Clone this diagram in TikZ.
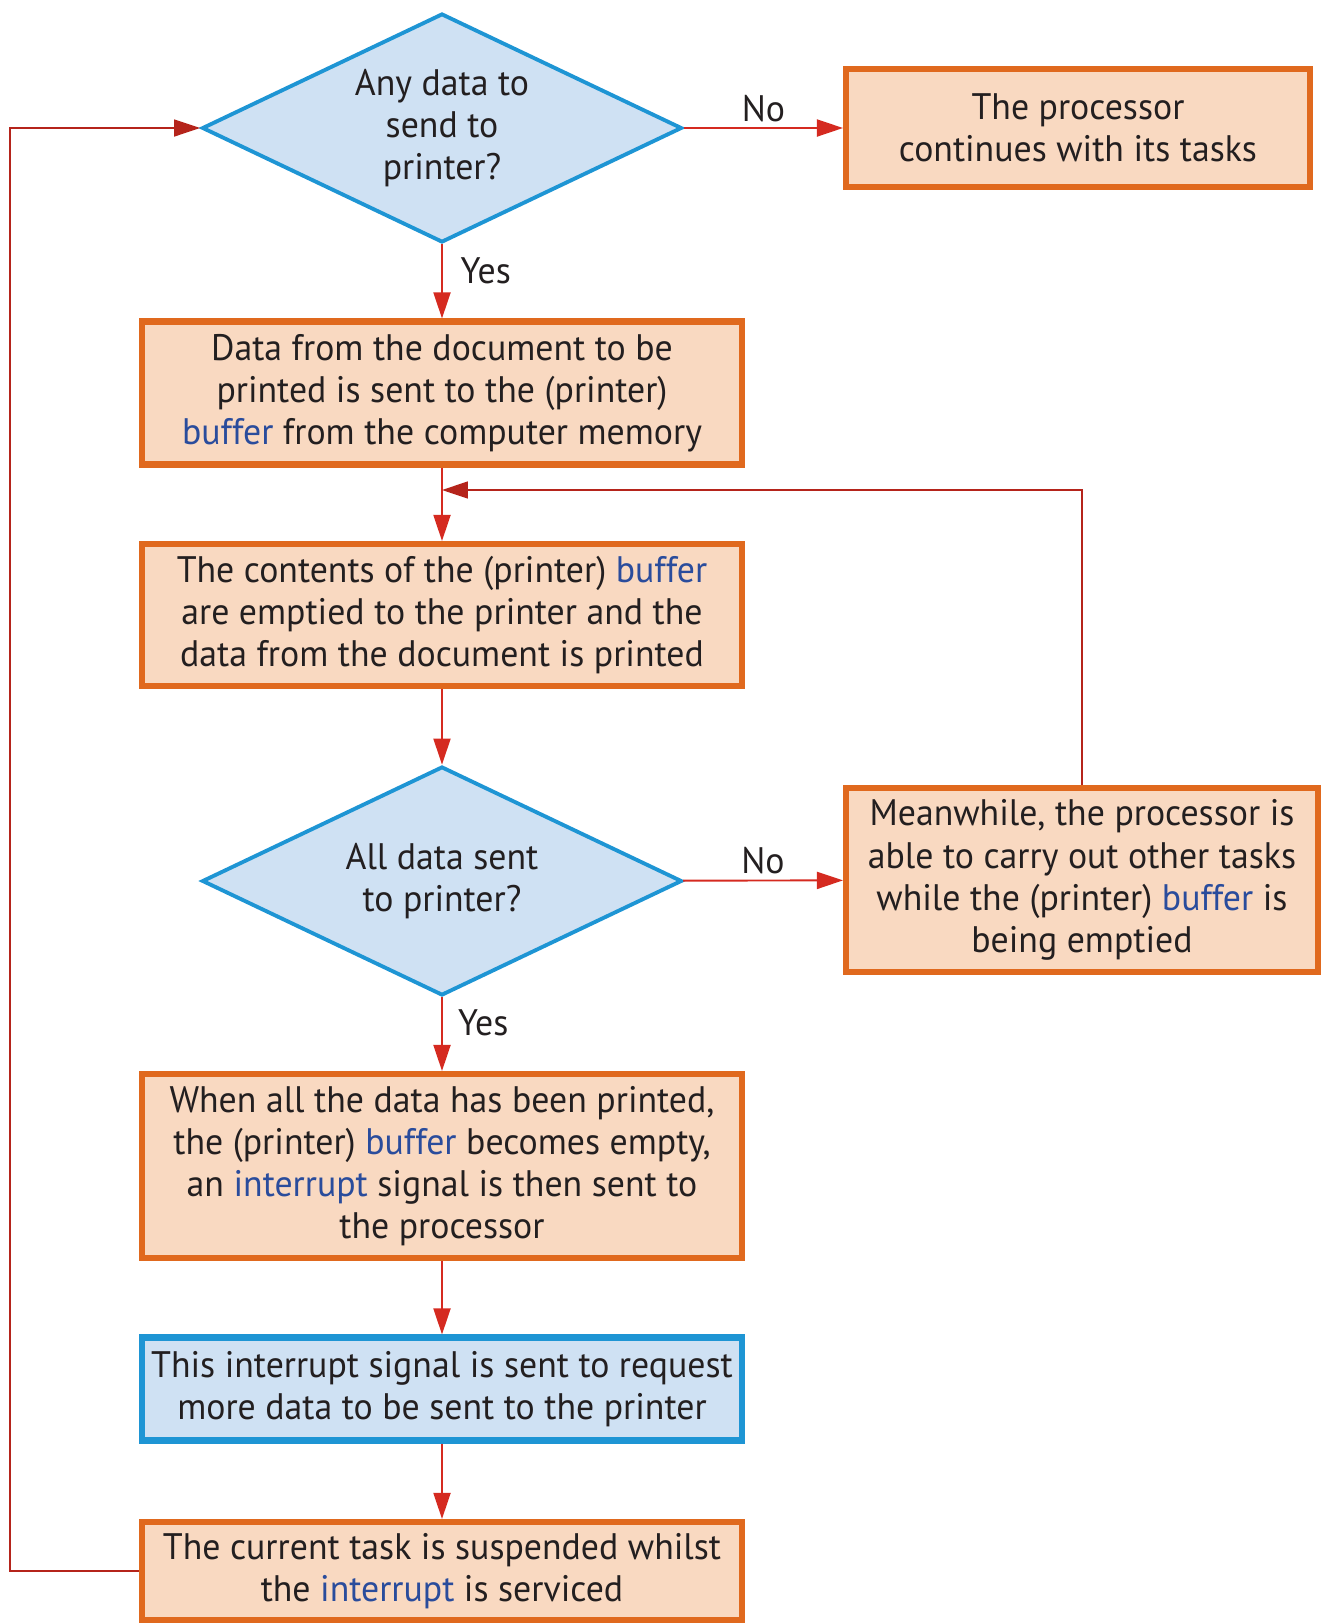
\documentclass[tikz,border=0pt]{standalone}
\usepackage{fontspec}
\setmainfont[FakeStretch=0.97]{PT Sans}
\usetikzlibrary{arrows.meta,positioning,shapes.geometric}
\definecolor{boxorange}{HTML}{E0691E}
\definecolor{boxpeach}{HTML}{F9D9C1}
\definecolor{askblue}{HTML}{1E95D4}
\definecolor{askfill}{HTML}{CFE1F3}
\definecolor{flowred}{HTML}{D52A20}
\definecolor{termblue}{HTML}{2A4C9C}
\definecolor{ink}{HTML}{231F20}
\newcommand{\kw}[1]{\textcolor{termblue}{#1}}

\begin{document}
\begin{tikzpicture}[
    x=0.02cm, y=-0.02cm,
    >={Triangle[length=0.52cm,width=0.34cm]},
    font=\fontsize{21}{24}\selectfont,
    text=ink,
    stepbox/.style={draw=boxorange, fill=boxpeach, line width=3.5pt, align=center, inner sep=0pt, minimum width=12.0cm},
    askbox/.style={diamond, aspect=2.09, draw=askblue, fill=askfill, line width=2.2pt, align=center, inner sep=0pt, minimum width=9.6cm, minimum height=4.58cm},
    flow/.style={->, line width=1.1pt, draw=flowred},
    backflow/.style={->, line width=0.9pt, draw=flowred!85!black},
    lbl/.style={font=\fontsize{21}{24}\selectfont, text=ink, inner sep=3pt}
]
\useasboundingbox (0,0) rectangle (1324,1624);

% Decisions
\node[askbox] (anydata) at (442,128) {Any data to\\send to\\printer?};
\node[askbox] (allsent) at (442,881) {All data sent\\to printer?};

% Main column
\node[stepbox, minimum height=2.86cm] (tobuffer) at (442,393) {Data from the document to be\\printed is sent to the (printer)\\\kw{buffer} from the computer memory};
\node[stepbox, minimum height=2.84cm] (empty) at (442,615) {The contents of the (printer) \kw{buffer}\\are emptied to the printer and the\\data from the document is printed};
\node[stepbox, minimum height=3.68cm] (printed) at (442,1166) {When all the data has been printed,\\the (printer) \kw{buffer} becomes empty,\\an \kw{interrupt} signal is then sent to\\the processor};
\node[stepbox, draw=askblue, fill=askfill, minimum height=2.06cm] (request) at (442,1389) {This interrupt signal is sent to request\\more data to be sent to the printer};
\node[stepbox, minimum height=1.96cm] (suspend) at (442,1571) {The current task is suspended whilst\\the \kw{interrupt} is serviced};

% Side boxes
\node[stepbox, minimum width=9.28cm, minimum height=2.36cm] (carryon) at (1078,128) {The processor\\continues with its tasks};
\node[stepbox, minimum width=9.44cm, minimum height=3.68cm] (meanwhile) at (1082,880) {Meanwhile, the processor is\\able to carry out other tasks\\while the (printer) \kw{buffer} is\\being emptied};

% Flow arrows
\draw[flow] (anydata) -- node[lbl, above]{No} (carryon);
\draw[flow] (anydata) -- node[lbl, right, pos=0.35, xshift=0.25cm]{Yes} (tobuffer);
\draw[flow] (tobuffer) -- (empty);
\draw[flow] (empty) -- (allsent);
\draw[flow] (allsent) -- node[lbl, above]{No} (meanwhile);
\draw[flow] (allsent) -- node[lbl, right, pos=0.35, xshift=0.2cm]{Yes} (printed);
\draw[flow] (printed) -- (request);
\draw[flow] (request) -- (suspend);

% Return paths
\coordinate (rejoin) at (442,490);
\coordinate (leftrail) at (10,0);
\draw[backflow] (meanwhile.north) |- (rejoin);
\draw[backflow] (suspend.west) -| (leftrail |- anydata.west) -- (anydata.west);

\end{tikzpicture}
\end{document}
